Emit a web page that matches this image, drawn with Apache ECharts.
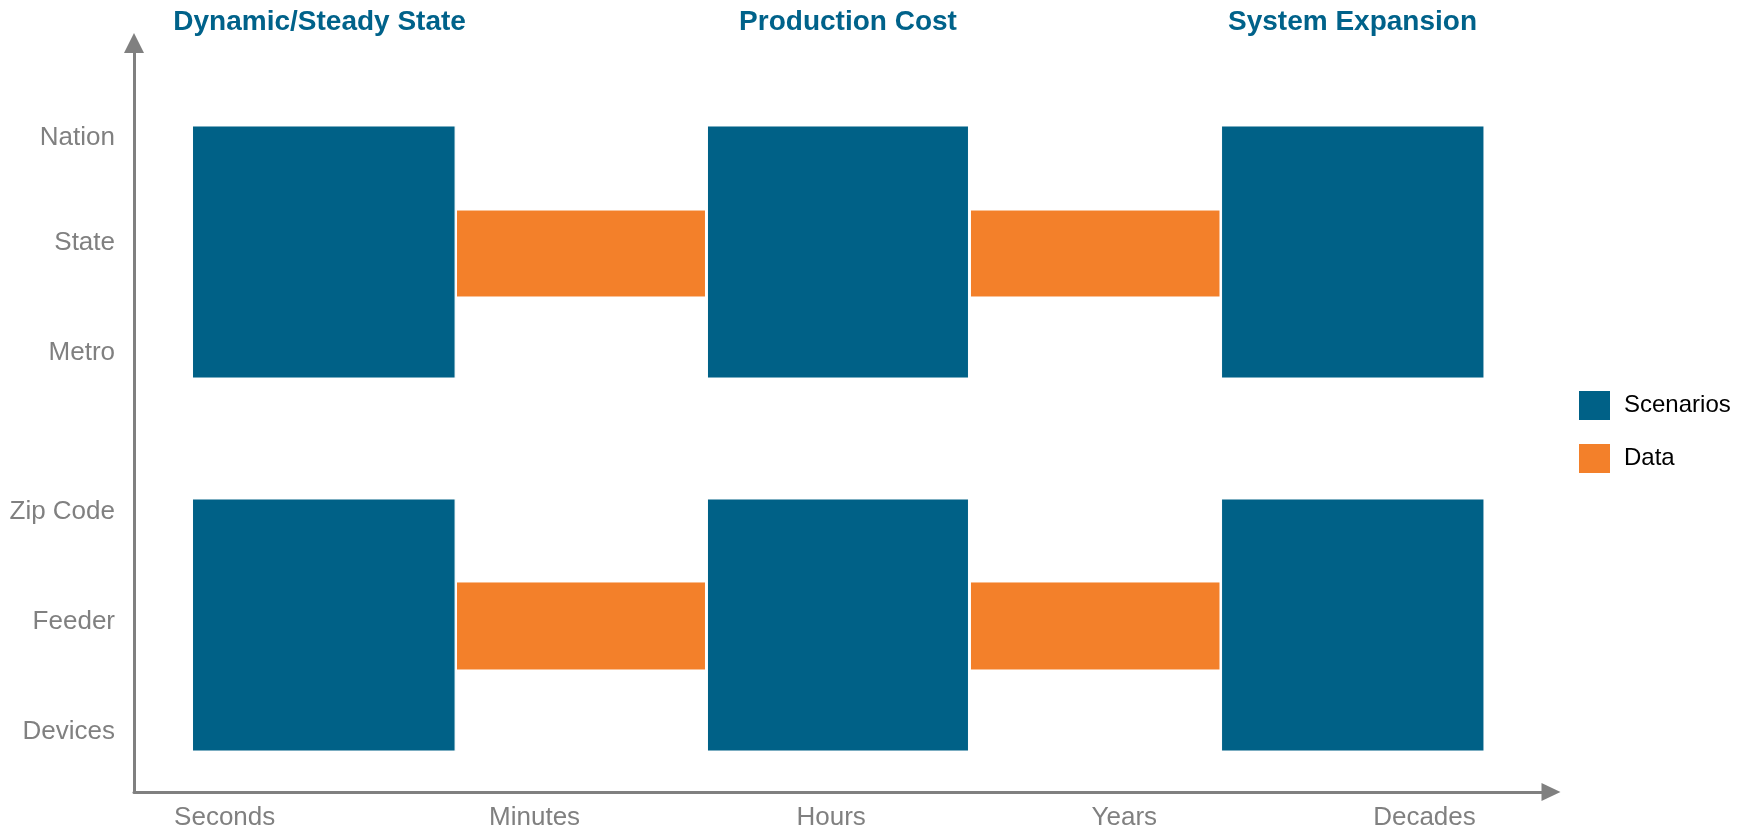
<!DOCTYPE html>
<html>
<head>
<meta charset="utf-8">
<script src="https://cdn.jsdelivr.net/npm/echarts@6/dist/echarts.min.js"></script>
<style>
  html, body { margin: 0; padding: 0; background: #ffffff; }
  #chart { width: 1748px; height: 832px; }
</style>
</head>
<body>
<div id="chart"></div>
<script>
// Time horizon (x) and spatial scale (y), both on a 0-100 relative axis
const timeLabels = ['Seconds', 'Minutes', 'Hours', 'Years', 'Decades'];
const timePositions = [6.4, 28.27, 49.2, 69.89, 91.07];

const scaleLabels = ['Nation', 'State', 'Metro', 'Zip Code', 'Feeder', 'Devices'];
const scalePositions = [87.32, 73.3, 58.61, 37.38, 22.7, 8.01];

const stageTitles = ['Dynamic/Steady State', 'Production Cost', 'System Expansion'];

// Each block: [timeStart, timeEnd, scaleLow, scaleHigh]
const scenarioBlocks = [
  [4.13, 22.66, 55.27, 88.92],
  [40.47, 58.89, 55.27, 88.92],
  [76.75, 95.27, 55.27, 88.92],
  [4.13, 22.66, 5.47, 39.12],
  [40.47, 58.89, 5.47, 39.12],
  [76.75, 95.27, 5.47, 39.12]
];
const dataBlocks = [
  [22.76, 40.33, 66.09, 77.7],
  [59.03, 76.64, 66.09, 77.7],
  [22.76, 40.33, 16.29, 28.04],
  [59.03, 76.64, 16.29, 28.04]
];

const FONT = '"Liberation Sans", Arial, Helvetica, sans-serif';
const BLUE = '#006187';
const ORANGE = '#f3802a';
const AXIS_GREY = '#808080';

function renderBlock(params, api) {
  const a = api.coord([api.value(0), api.value(3)]);
  const b = api.coord([api.value(1), api.value(2)]);
  return {
    type: 'rect',
    shape: {
      x: Math.min(a[0], b[0]),
      y: Math.min(a[1], b[1]),
      width: Math.abs(b[0] - a[0]),
      height: Math.abs(b[1] - a[1])
    },
    style: api.style()
  };
}

function labelFor(names, positions) {
  return function (v) {
    for (let i = 0; i < positions.length; i++) {
      if (Math.abs(positions[i] - v) < 1e-6) return names[i];
    }
    return '';
  };
}

const chart = echarts.init(document.getElementById('chart'));

chart.setOption({
  animation: false,
  backgroundColor: '#ffffff',
  grid: { left: 134, right: 197, top: 43, bottom: 40, containLabel: false },
  xAxis: {
    type: 'value',
    min: 0,
    max: 100,
    splitLine: { show: false },
    axisTick: { show: false },
    axisLine: {
      show: true,
      symbol: ['none', 'triangle'],
      symbolSize: [18, 19],
      lineStyle: { color: AXIS_GREY, width: 3 }
    },
    axisLabel: {
      customValues: timePositions,
      formatter: labelFor(timeLabels, timePositions),
      color: AXIS_GREY,
      fontSize: 26,
      fontFamily: FONT,
      margin: 13
    }
  },
  yAxis: {
    type: 'value',
    min: 0,
    max: 100,
    splitLine: { show: false },
    axisTick: { show: false },
    axisLine: {
      show: true,
      symbol: ['none', 'triangle'],
      symbolSize: [20, 20],
      lineStyle: { color: AXIS_GREY, width: 3 }
    },
    axisLabel: {
      customValues: scalePositions,
      formatter: labelFor(scaleLabels, scalePositions),
      color: AXIS_GREY,
      fontSize: 26,
      fontFamily: FONT,
      margin: 19,
      padding: [4, 0, 0, 0]
    }
  },
  legend: {
    orient: 'vertical',
    left: 1572,
    top: 384,
    icon: 'rect',
    itemWidth: 33,
    itemHeight: 31,
    itemGap: 20,
    textStyle: { color: '#000000', fontSize: 24, fontFamily: FONT, padding: [0, 0, 0, 8] },
    data: ['Scenarios', 'Data']
  },
  graphic: stageTitles.map(function (t, i) {
    return {
      type: 'text',
      x: [319.6, 848, 1352.5][i],
      y: 22,
      style: {
        text: t,
        fill: '#00628a',
        font: 'bold 28px ' + FONT,
        textAlign: 'center',
        textVerticalAlign: 'middle'
      }
    };
  }),
  series: [
    {
      name: 'Scenarios',
      type: 'custom',
      renderItem: renderBlock,
      encode: { x: [0, 1], y: [2, 3] },
      itemStyle: { color: BLUE, borderColor: '#ffffff', borderWidth: 1 },
      data: scenarioBlocks
    },
    {
      name: 'Data',
      type: 'custom',
      renderItem: renderBlock,
      encode: { x: [0, 1], y: [2, 3] },
      itemStyle: { color: ORANGE, borderColor: '#ffffff', borderWidth: 1 },
      data: dataBlocks
    }
  ]
});
</script>
</body>
</html>
